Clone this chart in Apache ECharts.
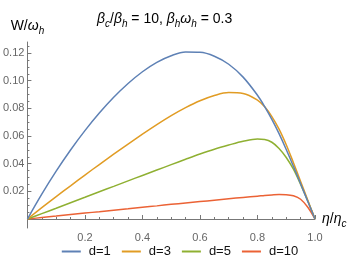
<!DOCTYPE html>
<html>
<head>
<meta charset="utf-8">
<script src="https://cdn.jsdelivr.net/npm/echarts@6/dist/echarts.min.js"></script>
<style>html,body{margin:0;padding:0;background:#fff}#c{width:360px;height:269px}</style>
</head>
<body>
<div id="c"></div>
<script>
var seriesNames = ['d=1', 'd=3', 'd=5', 'd=10'];
var colors = ['#5E81B5', '#E19C24', '#8FB032', '#EB6235'];

// eta / eta_c sample positions shared by all curves
var eta = [0, 0.05, 0.1, 0.15, 0.2, 0.25, 0.3, 0.35, 0.4, 0.45, 0.5, 0.55, 0.6, 0.65, 0.7, 0.75, 0.8, 0.825, 0.85, 0.875, 0.9, 0.925, 0.95, 0.975, 1.0];

var wD1  = [0, 0.018, 0.0346, 0.0499, 0.0639, 0.0766, 0.088, 0.098, 0.1065, 0.1133, 0.1181, 0.1207, 0.1205, 0.1177, 0.1119, 0.1026, 0.0895, 0.0813, 0.072, 0.0617, 0.0503, 0.0381, 0.0255, 0.0127, 0];
var wD3  = [0, 0.0082, 0.0162, 0.024, 0.0318, 0.0394, 0.0469, 0.0542, 0.0613, 0.0682, 0.0747, 0.0805, 0.0855, 0.0893, 0.0914, 0.0908, 0.086, 0.0811, 0.0741, 0.065, 0.0537, 0.0407, 0.0272, 0.0135, 0];
var wD5  = [0, 0.0039, 0.0078, 0.0118, 0.0157, 0.0197, 0.0236, 0.0276, 0.0315, 0.0354, 0.0393, 0.0432, 0.047, 0.0505, 0.0535, 0.0562, 0.0578, 0.0575, 0.0555, 0.051, 0.0445, 0.036, 0.025, 0.013, 0];
var wD10 = [0, 0.00105, 0.0021, 0.0032, 0.0043, 0.0053, 0.0064, 0.0074, 0.0085, 0.0095, 0.0106, 0.0116, 0.0126, 0.0136, 0.0146, 0.0156, 0.0165, 0.017, 0.0174, 0.0177, 0.0176, 0.0168, 0.0143, 0.0085, 0];

var yMajorTicks = [0.02, 0.04, 0.06, 0.08, 0.10, 0.12];
var yMinorTicks = [0.005, 0.01, 0.015, 0.025, 0.03, 0.035, 0.045, 0.05, 0.055, 0.065, 0.07, 0.075, 0.085, 0.09, 0.095, 0.105, 0.11, 0.115, 0.125];

var ys = [wD1, wD3, wD5, wD10];

function pairs(a, b) { return a.map(function (v, i) { return [v, b[i]]; }); }

var axisColor = '#777';
var labelColor = '#666';
var font = 'Liberation Sans';

function richSet() {
  return {
    n: { fontSize: 14, fontFamily: font, fontWeight: 'normal', color: '#000', lineHeight: 20, verticalAlign: 'middle' },
    i: { fontSize: 14, fontFamily: font, fontWeight: 'normal', fontStyle: 'italic', color: '#000', lineHeight: 20, verticalAlign: 'middle' },
    s: { fontSize: 10, fontFamily: font, fontWeight: 'normal', fontStyle: 'italic', color: '#000', lineHeight: 10, verticalAlign: 'bottom' }
  };
}

var chart = echarts.init(document.getElementById('c'), null, { renderer: 'canvas' });
chart.setOption({
  animation: false,
  textStyle: { fontFamily: font },
  title: {
    left: 92, top: 4,
    text: '{i|β}{s|c}{n|/}{i|β}{s|h}{n| = 10, }{i|β}{s|h}{i|ω}{s|h}{n| = 0.3}',
    textStyle: { fontWeight: 'normal', fontFamily: font, rich: richSet() }
  },
  grid: { left: 24, right: 45, top: 42, bottom: 41 },
  legend: {
    bottom: 6, left: 'center',
    icon: 'rect', itemWidth: 19, itemHeight: 2, itemGap: 11,
    textStyle: { fontSize: 13, color: '#111', fontFamily: font, padding: [0, 0, 0, 3] },
    data: seriesNames
  },
  xAxis: {
    type: 'value', min: 0, max: 1, interval: 0.2,
    name: '{i|η}{n|/}{i|η}{s|c}',
    nameLocation: 'end', nameGap: 7,
    nameTextStyle: { fontWeight: 'normal', rich: richSet() },
    axisLine: { onZero: true, lineStyle: { color: axisColor, width: 1 } },
    axisTick: { inside: true, length: 4, lineStyle: { color: axisColor } },
    minorTick: { show: true, splitNumber: 4, length: 2, lineStyle: { color: axisColor } },
    axisLabel: {
      fontSize: 11, color: labelColor, margin: 4, fontFamily: font,
      formatter: function (v) { return v === 0 ? '' : v.toFixed(1); }
    },
    splitLine: { show: false }
  },
  yAxis: [{
    type: 'value', min: -0.0065, max: 0.128,
    name: '{n|W/}{i|ω}{s|h}',
    nameLocation: 'end', nameGap: 6,
    nameTextStyle: { fontWeight: 'normal', rich: richSet() },
    axisLine: { show: true, lineStyle: { color: axisColor, width: 1 } },
    axisTick: { show: true, inside: true, length: 4, customValues: yMajorTicks, lineStyle: { color: axisColor } },
    axisLabel: {
      fontSize: 11, color: labelColor, margin: 3, fontFamily: font,
      customValues: yMajorTicks,
      formatter: function (v) { return v.toFixed(2); }
    },
    splitLine: { show: false }
  }, {
    type: 'value', min: -0.0065, max: 0.128, position: 'left', offset: 0,
    axisLine: { show: false },
    axisTick: { show: true, inside: true, length: 2, customValues: yMinorTicks, lineStyle: { color: axisColor } },
    axisLabel: { show: false },
    splitLine: { show: false }
  }],
  series: seriesNames.map(function (n, k) {
    return {
      name: n, type: 'line',
      data: pairs(eta, ys[k]),
      smooth: 0.35,
      showSymbol: false, symbol: 'none',
      lineStyle: { color: colors[k], width: 1.5 },
      itemStyle: { color: colors[k] },
      z: 2 + (3 - k)
    };
  })
});
</script>
</body>
</html>
